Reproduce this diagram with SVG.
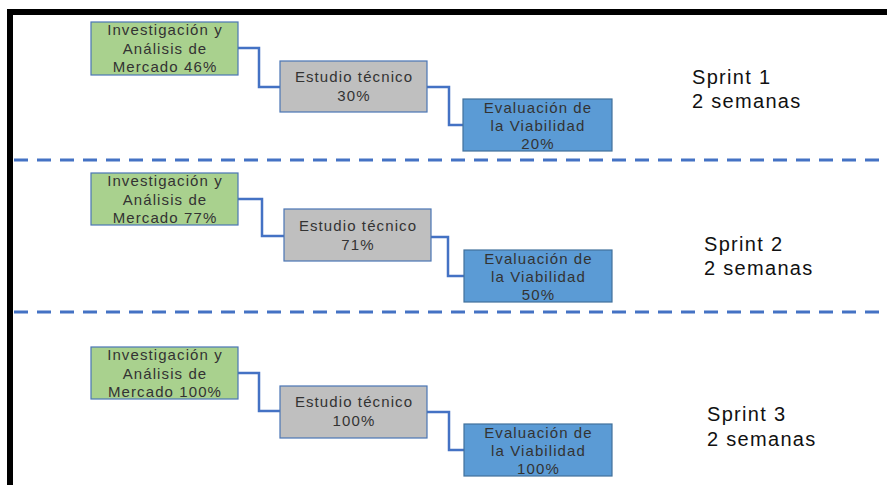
<svg xmlns="http://www.w3.org/2000/svg" width="887" height="485" viewBox="0 0 887 485">
<style>
.g{fill:#A9D18E;stroke:#4A75B5;stroke-width:1.2}
.s{fill:#BFBFBF;stroke:#4A75B5;stroke-width:1.2}
.b{fill:#5B9BD5;stroke:#41719C;stroke-width:1.2}
.t{font-family:"Liberation Sans",Arial,sans-serif;font-size:15px;letter-spacing:1.1px;fill:#333;text-anchor:middle}
.l{font-family:"Liberation Sans",Arial,sans-serif;font-size:20px;letter-spacing:1.3px;fill:#111}
.c{fill:none;stroke:#4472C4;stroke-width:2.5}
.d{fill:none;stroke:#4472C4;stroke-width:3;stroke-dasharray:14 9}
</style>
<rect x="0" y="0" width="887" height="485" fill="#fff"/>
<path d="M10 485 V12 H887" fill="none" stroke="#000" stroke-width="6"/>
<line class="d" x1="14" y1="160" x2="887" y2="160"/>
<line class="d" x1="14" y1="312" x2="887" y2="312"/>
<g id="connectors">
<path class="c" d="M238 48 H259 V87 H280"/>
<path class="c" d="M427 87 H449 V125 H463"/>
<path class="c" d="M238 199 H262 V236 H284"/>
<path class="c" d="M431 237 H448 V276 H464"/>
<path class="c" d="M238 373 H259 V411 H280"/>
<path class="c" d="M427 412 H449 V450 H464"/>
</g>
<g id="inv1"><rect class="g" x="91" y="22" width="147" height="53"/><text class="t" x="165" y="35">Investigación y</text><text class="t" x="165" y="54">Análisis de</text><text class="t" x="165" y="72">Mercado 46%</text></g>
<g id="est1"><rect class="s" x="280" y="61" width="147" height="51"/><text class="t" x="354" y="82">Estudio técnico</text><text class="t" x="354" y="101">30%</text></g>
<g id="eva1"><rect class="b" x="463" y="99" width="149" height="52"/><text class="t" x="538" y="113">Evaluación de</text><text class="t" x="538" y="131">la Viabilidad</text><text class="t" x="538" y="149">20%</text></g>
<g id="sprint1"><text class="l" x="692" y="84">Sprint 1</text><text class="l" x="692" y="108">2 semanas</text></g>
<g id="inv2"><rect class="g" x="91" y="173" width="147" height="52"/><text class="t" x="165" y="186">Investigación y</text><text class="t" x="165" y="205">Análisis de</text><text class="t" x="165" y="223">Mercado 77%</text></g>
<g id="est2"><rect class="s" x="284" y="209" width="147" height="52"/><text class="t" x="358" y="231">Estudio técnico</text><text class="t" x="358" y="250">71%</text></g>
<g id="eva2"><rect class="b" x="464" y="250" width="148" height="52"/><text class="t" x="538.5" y="264">Evaluación de</text><text class="t" x="538.5" y="282">la Viabilidad</text><text class="t" x="538.5" y="300">50%</text></g>
<g id="sprint2"><text class="l" x="704" y="251">Sprint 2</text><text class="l" x="704" y="275">2 semanas</text></g>
<g id="inv3"><rect class="g" x="91" y="347" width="147" height="52"/><text class="t" x="165" y="360">Investigación y</text><text class="t" x="165" y="379">Análisis de</text><text class="t" x="165" y="397">Mercado 100%</text></g>
<g id="est3"><rect class="s" x="280" y="386" width="147" height="52"/><text class="t" x="354" y="407">Estudio técnico</text><text class="t" x="354" y="426">100%</text></g>
<g id="eva3"><rect class="b" x="464" y="424" width="148" height="52"/><text class="t" x="538.5" y="438">Evaluación de</text><text class="t" x="538.5" y="456">la Viabilidad</text><text class="t" x="538.5" y="474">100%</text></g>
<g id="sprint3"><text class="l" x="707" y="421">Sprint 3</text><text class="l" x="707" y="446">2 semanas</text></g>
</svg>
